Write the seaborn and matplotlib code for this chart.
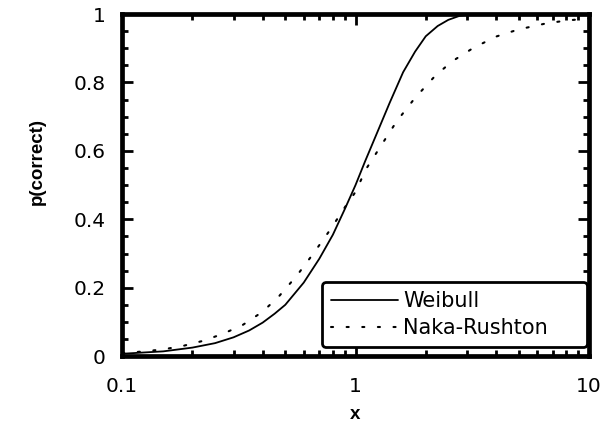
import numpy as np
import pandas as pd
import matplotlib
matplotlib.use("Agg")
import matplotlib.pyplot as plt
import seaborn as sns
from matplotlib.ticker import FixedLocator, LogLocator, NullFormatter, FixedFormatter

# Data
weibull_x = [0.10, 0.15, 0.20, 0.25, 0.30, 0.35, 0.40, 0.45, 0.50, 0.60, 0.70, 0.80,
             0.90, 1.00, 1.10, 1.25, 1.40, 1.60, 1.80, 2.00, 2.25, 2.50, 2.80, 3.20, 10.0]
weibull_p = [0.007, 0.014, 0.025, 0.038, 0.055, 0.075, 0.098, 0.124, 0.150, 0.215, 0.285, 0.355,
             0.430, 0.500, 0.570, 0.660, 0.740, 0.830, 0.890, 0.935, 0.965, 0.983, 0.995, 1.000, 1.000]

naka_x = [0.10, 0.125, 0.15, 0.18, 0.22, 0.27, 0.33, 0.40, 0.47, 0.56, 0.66, 0.78, 0.90,
          1.00, 1.11, 1.30, 1.50, 1.80, 2.20, 2.60, 3.20, 4.00, 5.00, 6.50, 8.00, 10.0]
naka_p = [0.009, 0.014, 0.020, 0.029, 0.044, 0.065, 0.092, 0.130, 0.175, 0.235, 0.300, 0.370, 0.435,
          0.480, 0.547, 0.620, 0.686, 0.755, 0.820, 0.862, 0.901, 0.934, 0.955, 0.972, 0.981, 0.987]

x_ticks = [0.1, 1, 10]
x_tick_labels = ["0.1", "1", "10"]
y_ticks = [0, 0.2, 0.4, 0.6, 0.8, 1.0]
y_tick_labels = ["0", "0.2", "0.4", "0.6", "0.8", "1"]

sns.set_theme(style="white")
plt.rcParams["font.family"] = ["DejaVu Sans"]
plt.rcParams["text.color"] = "black"
plt.rcParams["axes.labelcolor"] = "black"
plt.rcParams["xtick.color"] = "black"
plt.rcParams["ytick.color"] = "black"

df_w = pd.DataFrame({"x": weibull_x, "p": weibull_p})
df_n = pd.DataFrame({"x": naka_x, "p": naka_p})

fig = plt.figure(figsize=(6.14, 4.25), dpi=100)
ax = fig.add_axes([0.199, 0.162, 0.76, 0.805])

sns.lineplot(data=df_w, x="x", y="p", ax=ax, color="black", lw=1.3, label="Weibull")
sns.lineplot(data=df_n, x="x", y="p", ax=ax, color="black", lw=1.5, label="Naka-Rushton",
             linestyle=(0, (1, 6.5)), dash_capstyle="round")

ax.set_xscale("log")
ax.set_xlim(0.1, 10)
ax.set_ylim(0, 1)

ax.xaxis.set_major_locator(FixedLocator(x_ticks))
ax.xaxis.set_major_formatter(FixedFormatter(x_tick_labels))
ax.xaxis.set_minor_locator(LogLocator(base=10, subs=np.arange(2, 10)))
ax.xaxis.set_minor_formatter(NullFormatter())
ax.yaxis.set_major_locator(FixedLocator(y_ticks))
ax.yaxis.set_major_formatter(FixedFormatter(y_tick_labels))
ax.yaxis.set_minor_locator(FixedLocator(np.arange(0, 1.0001, 0.05)))

ax.tick_params(which="both", direction="in", top=True, right=True, bottom=True, left=True,
               color="black", labelcolor="black", width=2.0)
ax.tick_params(which="major", length=8)
ax.tick_params(which="minor", length=4)
ax.tick_params(axis="x", which="major", pad=15, labelsize=14.5)
ax.tick_params(axis="y", which="major", pad=12, labelsize=14.5)

for s in ax.spines.values():
    s.set_visible(True)
    s.set_color("black")
    s.set_linewidth(3.4)

ax.set_xlabel("x", fontsize=13.5, fontweight="bold", color="black",
              family=["Liberation Sans", "DejaVu Sans"])
ax.xaxis.label.set_va("center")
ax.xaxis.set_label_coords(0.5, -0.172)
ax.set_ylabel("p(correct)", fontsize=13.5, fontweight="bold", color="black",
              family=["Liberation Sans", "DejaVu Sans"])
ax.yaxis.label.set_va("center")
ax.yaxis.set_label_coords(-0.182, 0.57)

leg = ax.legend(loc="lower right", bbox_to_anchor=(0.428, 0.026, 0.568, 0.22),
                mode="expand", borderaxespad=0,
                fontsize=15, frameon=True, fancybox=True, handlelength=3.2,
                handletextpad=0.25, borderpad=0.45, labelspacing=0.33)
frame = leg.get_frame()
frame.set_edgecolor("black")
frame.set_linewidth(2.0)
frame.set_facecolor("white")
frame.set_alpha(1)
for t in leg.get_texts():
    t.set_color("black")

fig.savefig("out.png", dpi=100)
